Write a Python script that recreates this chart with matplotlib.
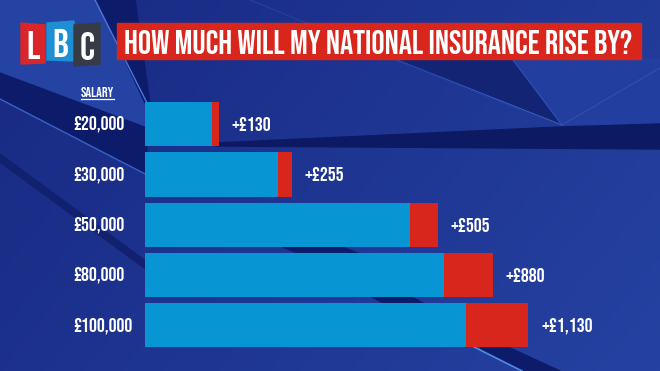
import numpy as np
import matplotlib
matplotlib.use("Agg")
import matplotlib.pyplot as plt
from matplotlib import font_manager as fm
from matplotlib.patches import Polygon, Rectangle

salaries = ["£20,000", "£30,000", "£50,000", "£80,000", "£100,000"]
current_ni = [1215, 2415, 4815, 5440, 5840]      # existing contribution (blue part)
ni_rise = [130, 255, 505, 880, 1130]             # increase (red part)
rise_labels = ["+£130", "+£255", "+£505", "+£880", "+£1,130"]
title = "HOW MUCH WILL MY NATIONAL INSURANCE RISE BY?"

BAR_BLUE = "#0895d4"
BAR_RED = "#d8261d"

# tall condensed face, like the broadcast graphic
installed = {f.name for f in fm.fontManager.ttflist}
FONT = "DejaVu Sans"
for cand in ["Bebas Neue", "Oswald", "League Gothic", "Fjalla One", "Antonio",
             "Barlow Condensed", "Liberation Sans Narrow"]:
    if cand in installed:
        FONT = cand
        break

W, H = 660, 371
fig = plt.figure(figsize=(W / 100, H / 100), dpi=100)

# background layer, pixel coords (origin top-left)
bg = fig.add_axes([0, 0, 1, 1])
bg.set_xlim(0, W)
bg.set_ylim(H, 0)
bg.axis('off')
gx = np.linspace(0, 1, 200)
gy = np.linspace(0, 1, 120)
GX, GY = np.meshgrid(gx, gy)
shade = 0.55 * GX + 0.25 * GY
c0 = np.array([0x18, 0x29, 0x82]) / 255
c1 = np.array([0x25, 0x42, 0xa2]) / 255
img = c0 + (c1 - c0) * shade[..., None] / shade.max()
bg.imshow(img, extent=[0, W, H, 0], aspect='auto', zorder=0)

dark = "#0d1c6a"
# top-left lighter patch and dark band
bg.add_patch(Polygon([(0, 0), (95, 0), (147, 103), (147, 128), (0, 73)], color="#2443a3", zorder=1))
bg.add_patch(Polygon([(0, 73), (147, 128), (147, 175), (0, 98)], color=dark, zorder=1))
bg.plot([0, 147], [99, 175], color="#3b63c4", lw=1, zorder=1)
bg.add_patch(Polygon([(0, 154), (147, 262), (147, 270), (0, 162)], color="#11216f", zorder=1))
# dark wedge from the top
bg.add_patch(Polygon([(97, 0), (135, 0), (150, 103), (145, 103)], color=dark, zorder=1))
bg.plot([95, 147], [0, 103], color="#4a78d8", lw=1, zorder=1)
# facets above the first bar on the right
bg.add_patch(Polygon([(397, 59), (513, 59), (562, 125)], color="#142475", zorder=1))
bg.add_patch(Polygon([(513, 59), (660, 59), (660, 124), (562, 125)], color="#223e9e", zorder=1))
bg.plot([397, 562], [60, 125], color="#3a5cc0", lw=0.8, zorder=1)
bg.plot([513, 562], [60, 125], color="#2f50b4", lw=0.8, zorder=1)
bg.plot([660, 562], [68, 125], color="#2f50b4", lw=0.8, zorder=1)
bg.plot([250, 520], [0, 110], color="#2340a0", lw=0.8, zorder=1)
# dark band behind the first bars on the right
bg.add_patch(Polygon([(215, 143), (560, 127), (660, 124), (660, 149), (215, 146)],
                     color="#0b1a62", zorder=1))
# streaks between the lower bars and at the bottom
bg.add_patch(Polygon([(280, 246), (340, 246), (360, 254), (300, 254)], color=dark, zorder=1))
bg.add_patch(Polygon([(370, 296), (410, 296), (425, 304), (385, 304)], color=dark, zorder=1))
bg.add_patch(Polygon([(480, 348), (510, 348), (560, 371), (525, 371)], color=dark, zorder=1))
bg.plot([474, 522], [347, 371], color="#4f8ae0", lw=1.2, zorder=1)

# title banner
bg.add_patch(Rectangle((117, 23), 524, 36, color=BAR_RED, zorder=2))
bg.text(124, 42, title, color="white", fontsize=23.7, family=FONT, weight='bold',
        va='center', ha='left', zorder=3)

# logo
logo = [("L", [(21, 23), (45, 25), (45, 63), (21, 64)], "#d8262b"),
        ("B", [(47, 23), (74, 21), (74, 61), (47, 60)], "#1d8fd2"),
        ("C", [(74, 25), (100, 23), (100, 64), (74, 66)], "#363b45")]
for letter, pts, col in logo:
    bg.add_patch(Polygon(pts, color=col, zorder=2))
    cx = np.mean([p[0] for p in pts])
    cy = np.mean([p[1] for p in pts])
    bg.text(cx, cy + 1.5, letter, color="white", fontsize=28, family=FONT, weight='bold',
            ha='center', va='center', zorder=3)

# SALARY header
bg.text(97.5, 92, "SALARY", color="white", fontsize=10.3, family=FONT, weight='bold',
        ha='center', va='center', zorder=3)
bg.plot([81, 114], [98.5, 98.5], color="white", lw=0.9, zorder=3)

# bar chart axes, mapped so that 0 sits at x=145px, 0.055 px per pound
ax = fig.add_axes([0, 0, 1, 1])
ax.patch.set_alpha(0)
ax.axis('off')
PX = 0.055
ax.set_xlim(-145 / PX, (W - 145) / PX)
top, step = 124.2, 50.3
ax.set_ylim((H - top) / step, -top / step)
y = np.arange(len(salaries))
ax.barh(y, current_ni, height=0.875, color=BAR_BLUE, zorder=3)
ax.barh(y, ni_rise, left=current_ni, height=0.875, color=BAR_RED, zorder=3)
for i in range(len(salaries)):
    ax.text(-72 / PX, y[i], salaries[i], color="white", fontsize=14.3, family=FONT,
            weight='bold', ha='left', va='center', zorder=4)
    ax.text(current_ni[i] + ni_rise[i] + 13 / PX, y[i], rise_labels[i], color="white",
            fontsize=14.3, family=FONT, weight='bold', ha='left', va='center', zorder=4)

fig.savefig("out.png", dpi=100)
